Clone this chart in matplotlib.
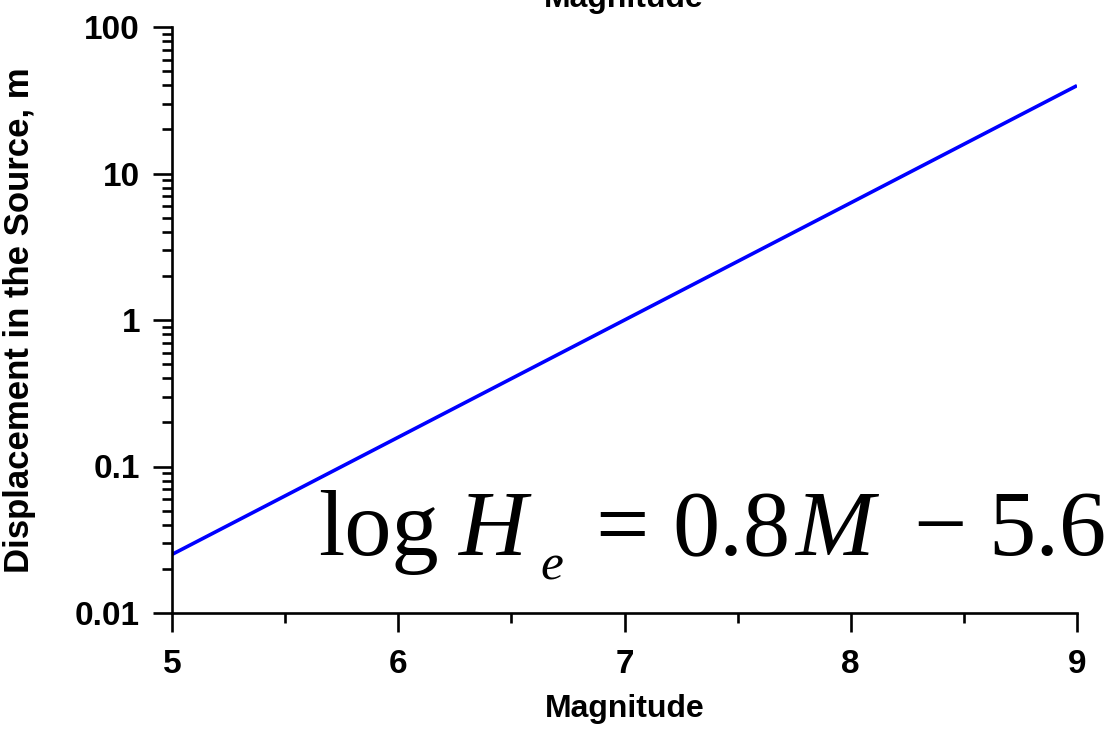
import matplotlib

matplotlib.use("Agg")
import matplotlib.pyplot as plt
from matplotlib.ticker import FixedLocator, FixedFormatter, LogLocator, NullFormatter

# values
magnitude = [5.0, 9.0]
displacement_m = [0.0251, 39.8]
x_ticks = [5, 6, 7, 8, 9]
x_minor_ticks = [5.5, 6.5, 7.5, 8.5]
y_ticks = [0.01, 0.1, 1, 10, 100]
y_tick_labels = ["0.01", "0.1", "1", "10", "100"]

plt.rcParams["font.family"] = ["Liberation Sans", "DejaVu Sans"]

W, H = 1118, 729
fig = plt.figure(figsize=(W / 100, H / 100), dpi=100)
ax = fig.add_axes([172 / W, 1 - 613 / H, (1077 - 172) / W, (613 - 27) / H])

ax.plot(magnitude, displacement_m, color="#0000ff", linewidth=2.6, solid_capstyle="butt")

ax.set_yscale("log")
ax.set_xlim(5, 9)
ax.set_ylim(0.01, 100)

ax.xaxis.set_major_locator(FixedLocator(x_ticks))
ax.xaxis.set_minor_locator(FixedLocator(x_minor_ticks))
ax.yaxis.set_major_locator(FixedLocator(y_ticks))
ax.yaxis.set_major_formatter(FixedFormatter(y_tick_labels))
ax.yaxis.set_minor_locator(LogLocator(base=10, subs=range(2, 10)))
ax.yaxis.set_minor_formatter(NullFormatter())

for side in ("top", "right"):
    ax.spines[side].set_visible(False)
for side in ("left", "bottom"):
    ax.spines[side].set_linewidth(1.9)

ax.tick_params(which="major", direction="out", length=14, width=1.9, pad=9)
ax.tick_params(which="minor", direction="out", length=7, width=1.9)
ax.tick_params(axis="x", which="major", pad=12)
for lab in ax.get_xticklabels() + ax.get_yticklabels():
    lab.set_fontsize(24)
    lab.set_fontweight("bold")

ax.set_xlabel("Magnitude", fontsize=23, fontweight="bold")
ax.xaxis.set_label_coords(0.5, -(717 - 613) / (613 - 27))
ax.xaxis.label.set_verticalalignment("baseline")
ax.set_ylabel("Displacement in the Source, m", fontsize=25, fontweight="bold")
ax.yaxis.set_label_coords(-(172 - 20) / (1077 - 172), 0.5)
ax.yaxis.label.set_verticalalignment("center")

fig.text(624 / W, 1 - 7 / H, "Magnitude", ha="center", va="baseline",
         fontsize=23, fontweight="bold")

# equation, set piece by piece in a Times-like face
serif = "Liberation Serif"
eq_base = 1 - 555 / H
eq = [
    ("log", 318, eq_base, 68, "normal"),
    ("H", 458, eq_base, 68, "italic"),
    ("e", 540, 1 - 580 / H, 37, "italic"),
    ("=", 595, eq_base, 68, "normal"),
    ("0.8", 672, eq_base, 68, "normal"),
    ("M", 795, eq_base, 68, "italic"),
    ("\u2212", 913, eq_base, 68, "normal"),
    ("5.6", 988, eq_base, 68, "normal"),
]
for txt, px, y, size, style in eq:
    fig.text(px / W, y, txt, ha="left", va="baseline", fontsize=size,
             family=serif, style=style)

fig.savefig("out.png", dpi=100)
